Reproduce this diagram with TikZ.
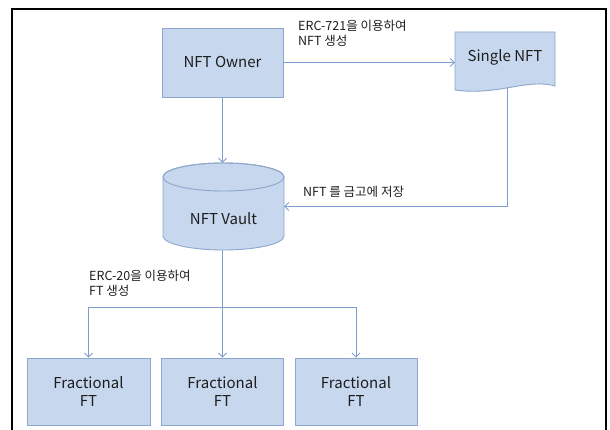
\documentclass[tikz,border=0pt]{standalone}
\usepackage{fontspec}
\setmainfont{Noto Sans CJK KR}
\usetikzlibrary{arrows.meta}
\definecolor{boxfill}{HTML}{C6D7EE}
\definecolor{boxline}{HTML}{8CA6CC}
\definecolor{conn}{HTML}{7E9FCC}
\definecolor{txt}{HTML}{1E1E1E}
\tikzset{
  mainfont/.style={font=\fontsize{15}{18}\selectfont, text=txt},
  box/.style={draw=boxline, fill=boxfill, line width=0.9pt, minimum width=121pt, minimum height=69pt, inner sep=0pt, align=center, mainfont},
  ghost/.style={minimum width=121pt, minimum height=87pt, inner sep=0pt},
  conn/.style={draw=conn, line width=0.9pt, -{Straight Barb[length=4pt,width=8pt]}},
  lbl/.style={font=\fontsize{12.5}{15}\selectfont, text=txt, align=left, inner sep=0pt},
  shapeln/.style={draw=boxline, fill=boxfill, line width=0.9pt}
}
\begin{document}
\begin{tikzpicture}[x=1pt,y=-1pt]
\useasboundingbox (0,0) rectangle (610,430);
\begin{scope}
\clip (0,0) rectangle (610,430);
\draw[line width=2pt] (12,9) -- (606,9) -- (606,450) -- (12,450) -- cycle;
\end{scope}
% NFT Owner
\node[box] (owner) at (222.5,62.5) {NFT Owner};
% Single NFT (document shape)
\path[shapeln] (455,32) -- (555,32) -- (555,86)
  .. controls (528,78) and (498,96) .. (455,90) -- cycle;
\node[minimum width=100pt, minimum height=58pt, inner sep=0pt] (single) at (505,61) {};
\node[mainfont] (singletext) at (505,57) {Single NFT};
\coordinate (singlebot) at (507,87);
% NFT Vault (cylinder)
\node[ghost] (vault) at (223.5,206.5) {};
\path[shapeln] (163,177) -- (163,236) arc[start angle=180, end angle=360, x radius=60.5, y radius=-14] -- (284,177) arc[start angle=0, end angle=180, x radius=60.5, y radius=-14] -- cycle;
\draw[boxline, line width=0.9pt] (223.5,177) ellipse[x radius=60.5, y radius=14];
\node[mainfont] (vaulttext) at (223.5,219) {NFT Vault};
% Fractional FT
\node[box, minimum width=123pt, minimum height=67pt] (f1) at (88.5,391.5) {Fractional\\FT};
\node[box, minimum width=122pt, minimum height=67pt] (f2) at (222.5,391.5) {Fractional\\FT};
\node[box, minimum width=122pt, minimum height=67pt] (f3) at (356,391.5) {Fractional\\FT};
% connectors
\draw[conn] (owner.east) -- (single.west |- owner.east);
\draw[conn] (owner.south) -- (owner.south |- vault.north);
\draw[conn] (singlebot) |- (vault.east);
\coordinate (split) at (222.5,307);
\draw[conn] (vault.south -| f2.north) -- (f2.north);
\draw[conn] (split) -| (f1.north);
\draw[conn] (split) -| (f3.north);
% labels
\node[lbl, anchor=north west] (l1) at (298,20) {ERC-721을 이용하여\\NFT 생성};
\node[lbl, anchor=west] (l2) at (303,192) {NFT 를 금고에 저장};
\node[lbl, anchor=north west] (l3) at (89,270) {ERC-20을 이용하여\\FT 생성};
\end{tikzpicture}
\end{document}
